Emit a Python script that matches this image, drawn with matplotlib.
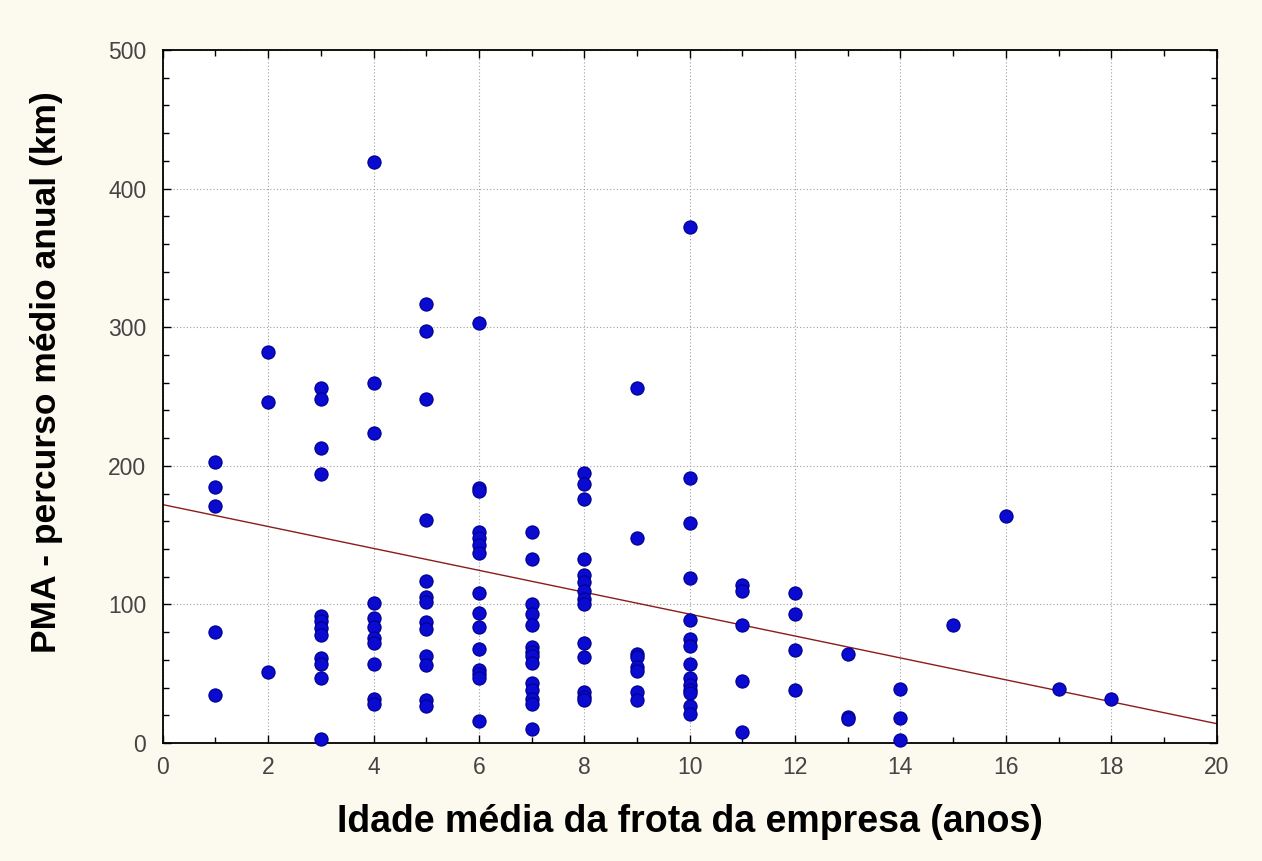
import numpy as np
import matplotlib
matplotlib.use("Agg")
import matplotlib.pyplot as plt
from matplotlib.ticker import MultipleLocator

# Idade média da frota (anos) e percurso médio anual (km), agrupados por idade
idades = [1, 2, 3, 4, 5, 6, 7, 8, 9, 10, 11, 12, 13, 14, 15, 16, 17, 18]
pma_por_idade = [
    [203, 185, 171, 80, 35],
    [282, 246, 51],
    [256, 248, 213, 194, 92, 88, 83, 78, 61, 57, 47, 3],
    [419, 260, 224, 101, 90, 84, 76, 72, 57, 32, 28],
    [317, 297, 248, 161, 117, 105, 102, 87, 82, 63, 56, 31, 27],
    [303, 184, 182, 152, 148, 143, 137, 108, 94, 84, 68, 53, 50, 47, 16],
    [152, 133, 100, 93, 85, 69, 66, 63, 58, 43, 38, 32, 28, 10],
    [195, 187, 176, 133, 121, 116, 110, 104, 100, 72, 62, 37, 33, 31],
    [256, 148, 64, 62, 55, 52, 37, 31],
    [372, 191, 159, 119, 89, 75, 70, 57, 47, 42, 38, 36, 27, 21],
    [114, 110, 85, 45, 8],
    [108, 93, 67, 38],
    [64, 19, 17],
    [39, 18, 2],
    [85],
    [164],
    [39],
    [32],
]

# reta ajustada: PMA = a + b * idade
intercepto = 172.0
inclinacao = -7.9

x = np.concatenate([[a] * len(v) for a, v in zip(idades, pma_por_idade)]).astype(float)
y = np.concatenate([np.array(v, dtype=float) for v in pma_por_idade])

xr = np.array([0.0, 20.0])
yr = intercepto + inclinacao * xr

fonte = "Liberation Sans"

fig = plt.figure(figsize=(12.62, 8.61), dpi=100, facecolor="#fcf9ee")
ax = fig.add_axes([0.129, 0.137, 0.835, 0.805])
ax.set_facecolor("white")

ax.grid(True, which="major", linestyle=(0, (1, 2)), color="#a0a0a0", linewidth=0.8)
ax.set_axisbelow(True)

ax.plot(xr, yr, color="#8b1c1c", linewidth=1.0, zorder=2)
ax.plot(x, y, linestyle="none", marker="o", markersize=9.5,
        markerfacecolor="#0a0ad0", markeredgecolor="#00008c",
        markeredgewidth=0.8, zorder=3, clip_on=False)

ax.set_xlim(0, 20)
ax.set_ylim(0, 500)
ax.xaxis.set_major_locator(MultipleLocator(2))
ax.xaxis.set_minor_locator(MultipleLocator(1))
ax.yaxis.set_major_locator(MultipleLocator(100))
ax.yaxis.set_minor_locator(MultipleLocator(20))
ax.tick_params(which="both", direction="in", top=True, right=True,
               labelsize=16.5, colors="black")
ax.tick_params(axis="x", pad=9)
ax.tick_params(axis="y", pad=12)
ax.tick_params(which="major", length=6, width=1.0)
ax.tick_params(which="minor", length=4, width=1.0)
for lbl in ax.get_xticklabels() + ax.get_yticklabels():
    lbl.set_fontfamily(fonte)
    lbl.set_color("#444444")

for s in ax.spines.values():
    s.set_linewidth(1.3)
    s.set_color("black")

ax.set_xlabel("Idade média da frota da empresa (anos)", fontsize=27,
              fontweight="bold", family=fonte)
ax.set_ylabel("PMA - percurso médio anual (km)", fontsize=25.5,
              fontweight="bold", family=fonte)
ax.xaxis.set_label_coords(0.5, -0.088)
ax.yaxis.set_label_coords(-0.095, 0.535)

fig.savefig("out.png", dpi=100, facecolor=fig.get_facecolor())
